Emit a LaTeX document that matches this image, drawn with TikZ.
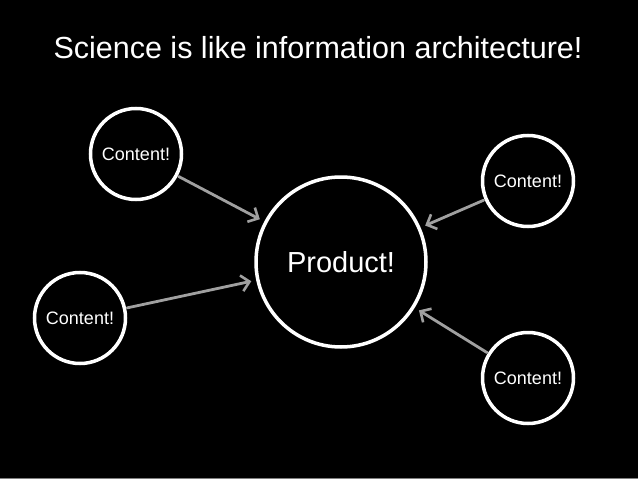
\documentclass[tikz,border=0pt]{standalone}
\usepackage{fontspec}
\setmainfont{Liberation Sans}
\usetikzlibrary{arrows.meta}
\definecolor{arrowgray}{RGB}{160,160,160}
\definecolor{edgegray}{RGB}{128,128,128}
\begin{document}
\begin{tikzpicture}[x=1pt,y=-1pt,
  ring/.style={circle, draw=white, line width=3.5pt, text=white, inner sep=0pt},
  small/.style={ring, minimum size=91pt, font=\fontsize{18}{21}\selectfont},
  feed/.style={draw=arrowgray, line width=2.8pt, line cap=round,
    -{Straight Barb[length=8pt,width=16pt,line width=2.6pt]}, shorten <=1pt, shorten >=5pt}]
  \fill[black] (0,0) rectangle (638,479);
  \fill[edgegray] (0,477.5) rectangle (638,479);
  \useasboundingbox (0,0) rectangle (638,479);
  \node[text=white, font=\fontsize{30.5}{36}\selectfont] (title) at (318,48) {Science is like information architecture!};
  \node[ring, minimum size=170pt, font=\fontsize{29}{34}\selectfont] (prod) at (341,262) {Product!};
  \node[small] (c1) at (136,154) {Content!};
  \node[small] (c2) at (80,318) {Content!};
  \node[small] (c3) at (528,181) {Content!};
  \node[small] (c4) at (528,378) {Content!};
  \draw[feed] (c1) -- (prod);
  \draw[feed] (c2) -- (prod);
  \draw[feed] (c3) -- (prod);
  \draw[feed] (c4) -- (prod);
\end{tikzpicture}
\end{document}
